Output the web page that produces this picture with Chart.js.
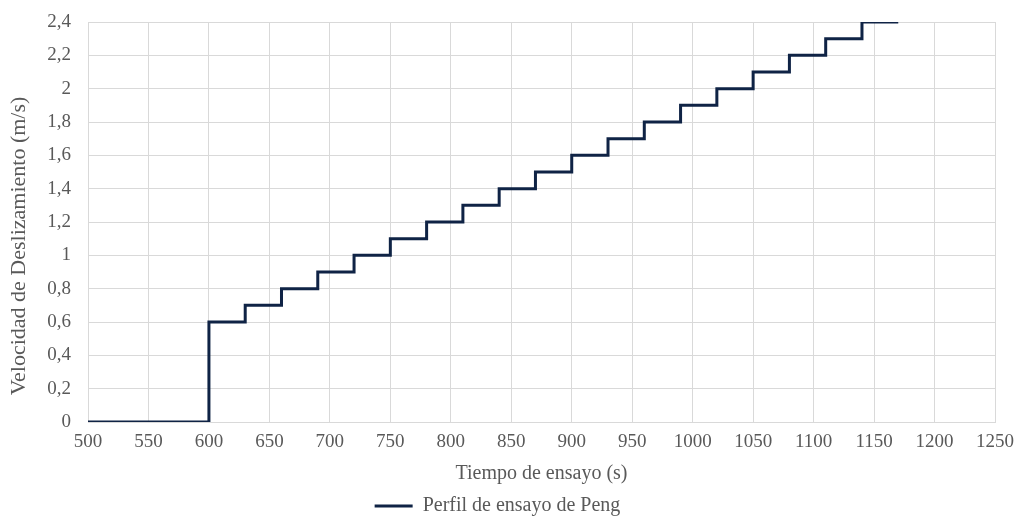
<!DOCTYPE html>
<html>
<head>
<meta charset="utf-8">
<script src="https://cdn.jsdelivr.net/npm/chart.js@4/dist/chart.umd.min.js"></script>
<style>
  html, body { margin: 0; padding: 0; background: #fff; }
  #wrap { width: 1017px; height: 532px; }
</style>
</head>
<body>
<div id="wrap"><canvas id="grafico"></canvas></div>
<script>
// tiempo (s) donde cambia la velocidad, y la velocidad (m/s) desde ese momento
const tiempos = [500, 600, 630, 660, 690, 720, 750, 780, 810, 840, 870, 900, 930, 960, 990, 1020, 1050, 1080, 1110, 1140, 1170];
const velocidades = [0, 0.6, 0.7, 0.8, 0.9, 1.0, 1.1, 1.2, 1.3, 1.4, 1.5, 1.6, 1.7, 1.8, 1.9, 2.0, 2.1, 2.2, 2.3, 2.4, 2.4];
const serieNombre = 'Perfil de ensayo de Peng';
const tituloX = 'Tiempo de ensayo (s)';
const tituloY = 'Velocidad de Deslizamiento (m/s)';

const fuente = "'Liberation Serif', 'Times New Roman', serif";
const gris = '#595959';
const rejilla = '#d9d9d9';
const azul = '#0f2345';

const puntos = tiempos.map((t, i) => ({ x: t, y: velocidades[i] }));

// el título del eje Y va algo más abajo que el centro del área, como en el original
const tituloEjeY = {
    id: 'tituloEjeY',
    afterDraw(chart) {
        const ctx = chart.ctx;
        ctx.save();
        ctx.translate(19, 246);
        ctx.rotate(-Math.PI / 2);
        ctx.fillStyle = gris;
        ctx.font = '22px ' + fuente;
        ctx.textAlign = 'center';
        ctx.textBaseline = 'middle';
        ctx.fillText(tituloY, 0, 0);
        ctx.restore();
    }
};

const data = {
    datasets: [{
        label: serieNombre,
        data: puntos,
        stepped: true,
        borderColor: azul,
        backgroundColor: azul,
        borderWidth: 3,
        pointRadius: 0,
        pointStyle: 'line',
        fill: false,
    }]
};

const config = {
    type: 'line',
    data: data,
    plugins: [tituloEjeY],
    options: {
        responsive: true,
        maintainAspectRatio: false,
        animation: false,
        layout: { padding: { top: 22, right: 22, left: 0, bottom: 6 } },
        plugins: {
            legend: {
                position: 'bottom',
                labels: {
                    usePointStyle: true,
                    pointStyle: 'line',
                    pointStyleWidth: 38,
                    boxWidth: 38,
                    boxHeight: 3,
                    color: gris,
                    font: { family: fuente, size: 20 },
                    padding: 6,
                }
            },
            tooltip: { enabled: false }
        },
        scales: {
            x: {
                type: 'linear',
                min: 500,
                max: 1250,
                afterFit: s => { s.height = 68; s.paddingRight = 0; s.paddingLeft = 0; },
                ticks: {
                    stepSize: 50,
                    color: gris,
                    padding: 9,
                    font: { family: fuente, size: 19 },
                    callback: v => String(v),
                },
                grid: { color: rejilla, drawTicks: false },
                border: { color: rejilla },
                title: {
                    display: true,
                    text: tituloX,
                    color: gris,
                    font: { family: fuente, size: 20 },
                    padding: { top: 6 },
                }
            },
            y: {
                min: 0,
                max: 2.4,
                afterFit: s => { s.width = 88; s.paddingTop = 0; s.paddingBottom = 0; },
                ticks: {
                    stepSize: 0.2,
                    color: gris,
                    padding: 17,
                    font: { family: fuente, size: 19 },
                    callback: v => String(Math.round(v * 10) / 10).replace('.', ','),
                },
                grid: { color: rejilla, drawTicks: false },
                border: { color: rejilla },
            }
        }
    }
};

const myChart = new Chart(document.getElementById('grafico'), config);
</script>
</body>
</html>
